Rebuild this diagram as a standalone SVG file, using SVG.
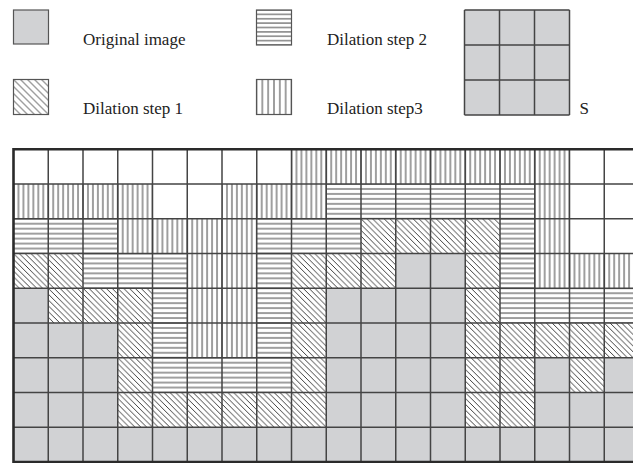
<svg xmlns="http://www.w3.org/2000/svg" width="633" height="463" viewBox="0 0 633 463">
<style>
.o{fill:#d1d2d4}
.h{fill:url(#ph)}
.v{fill:url(#pv)}
.d{fill:url(#pd)}
.hatch{stroke:#2a2a2a;stroke-width:0.9;fill:none}
.gl{stroke:#444;stroke-width:1.5;fill:none}
.bd{stroke:#2a2a2a;stroke-width:2.6;fill:none}
.lb{stroke:#555;stroke-width:1.2}
.t{font-family:"Liberation Serif","Times New Roman",serif;font-size:17px;fill:#222}
</style>
<defs>
<pattern id="ph" patternUnits="userSpaceOnUse" x="13.5" y="149.25" width="34.75" height="4.9643">
<rect width="34.75" height="4.9643" fill="#fff"/>
<line class="hatch" x1="0" y1="0" x2="34.75" y2="0"/>
<line class="hatch" x1="0" y1="4.9643" x2="34.75" y2="4.9643"/>
</pattern>
<pattern id="pv" patternUnits="userSpaceOnUse" x="13.5" y="149.25" width="4.9643" height="34.75">
<rect width="4.9643" height="34.75" fill="#fff"/>
<line class="hatch" x1="0" y1="0" x2="0" y2="34.75"/>
<line class="hatch" x1="4.9643" y1="0" x2="4.9643" y2="34.75"/>
</pattern>
<pattern id="pd" patternUnits="userSpaceOnUse" x="13.5" y="149.25" width="5.7917" height="5.7917">
<rect width="5.7917" height="5.7917" fill="#fff"/>
<path class="hatch" d="M-1,-1 L6.79,6.79 M4.79,-1 L6.79,1 M-1,4.79 L1,6.79"/>
</pattern>
<pattern id="lh" patternUnits="userSpaceOnUse" x="256.5" y="10" width="35" height="4.375">
<rect width="35" height="4.375" fill="#fff"/>
<line class="hatch" x1="0" y1="0" x2="35" y2="0"/>
<line class="hatch" x1="0" y1="4.375" x2="35" y2="4.375"/>
</pattern>
<pattern id="lv" patternUnits="userSpaceOnUse" x="256.5" y="79.5" width="5.8333" height="35">
<rect width="5.8333" height="35" fill="#fff"/>
<line class="hatch" x1="0" y1="0" x2="0" y2="35"/>
<line class="hatch" x1="5.8333" y1="0" x2="5.8333" y2="35"/>
</pattern>
<pattern id="ld" patternUnits="userSpaceOnUse" x="13.5" y="79.5" width="7" height="7">
<rect width="7" height="7" fill="#fff"/>
<path class="hatch" d="M-1,-1 L8,8 M6,-1 L8,1 M-1,6 L1,8"/>
</pattern>
</defs>
<rect width="633" height="463" fill="#fff"/>

<g id="legend-original">
<rect class="o lb" x="13.5" y="10" width="35" height="34"/>
<text class="t" x="83" y="45">Original image</text>
</g>
<g id="legend-step1">
<rect class="lb" fill="url(#ld)" x="13.5" y="79.5" width="35" height="35"/>
<text class="t" x="83" y="114">Dilation step 1</text>
</g>
<g id="legend-step2">
<rect class="lb" fill="url(#lh)" x="256.5" y="10" width="35" height="35"/>
<text class="t" x="327" y="45">Dilation step 2</text>
</g>
<g id="legend-step3">
<rect class="lb" fill="url(#lv)" x="256.5" y="79.5" width="35" height="35"/>
<text class="t" x="327" y="114">Dilation step3</text>
</g>
<g id="structuring-element">
<rect class="o" x="464.5" y="10" width="105" height="105"/>
<path class="gl" d="M464.5,10H569.5M464.5,45H569.5M464.5,80H569.5M464.5,115H569.5M464.5,10V115M499.5,10V115M534.5,10V115M569.5,10V115"/>
<text class="t" x="579.5" y="114">S</text>
</g>

<g id="grid-cells">
<rect class="v" x="291.5" y="149.25" width="278" height="34.75"/>

<rect class="v" x="13.5" y="184" width="139" height="34.75"/>
<rect class="v" x="222" y="184" width="104.25" height="34.75"/>
<rect class="h" x="326.25" y="184" width="208.5" height="34.75"/>
<rect class="v" x="534.75" y="184" width="34.75" height="34.75"/>

<rect class="h" x="13.5" y="218.75" width="104.25" height="34.75"/>
<rect class="v" x="117.75" y="218.75" width="139" height="34.75"/>
<rect class="h" x="256.75" y="218.75" width="104.25" height="34.75"/>
<rect class="d" x="361" y="218.75" width="139" height="34.75"/>
<rect class="h" x="500" y="218.75" width="34.75" height="34.75"/>
<rect class="v" x="534.75" y="218.75" width="34.75" height="34.75"/>

<rect class="d" x="13.5" y="253.5" width="69.5" height="34.75"/>
<rect class="h" x="83" y="253.5" width="104.25" height="34.75"/>
<rect class="v" x="187.25" y="253.5" width="69.5" height="34.75"/>
<rect class="h" x="256.75" y="253.5" width="34.75" height="34.75"/>
<rect class="d" x="291.5" y="253.5" width="104.25" height="34.75"/>
<rect class="o" x="395.75" y="253.5" width="69.5" height="34.75"/>
<rect class="d" x="465.25" y="253.5" width="34.75" height="34.75"/>
<rect class="h" x="500" y="253.5" width="34.75" height="34.75"/>
<rect class="v" x="534.75" y="253.5" width="104.25" height="34.75"/>

<rect class="o" x="13.5" y="288.25" width="34.75" height="34.75"/>
<rect class="d" x="48.25" y="288.25" width="104.25" height="34.75"/>
<rect class="h" x="152.5" y="288.25" width="34.75" height="34.75"/>
<rect class="v" x="187.25" y="288.25" width="69.5" height="34.75"/>
<rect class="h" x="256.75" y="288.25" width="34.75" height="34.75"/>
<rect class="d" x="291.5" y="288.25" width="34.75" height="34.75"/>
<rect class="o" x="326.25" y="288.25" width="139" height="34.75"/>
<rect class="d" x="465.25" y="288.25" width="34.75" height="34.75"/>
<rect class="h" x="500" y="288.25" width="139" height="34.75"/>

<rect class="o" x="13.5" y="323" width="104.25" height="34.75"/>
<rect class="d" x="117.75" y="323" width="34.75" height="34.75"/>
<rect class="h" x="152.5" y="323" width="34.75" height="34.75"/>
<rect class="v" x="187.25" y="323" width="69.5" height="34.75"/>
<rect class="h" x="256.75" y="323" width="34.75" height="34.75"/>
<rect class="d" x="291.5" y="323" width="34.75" height="34.75"/>
<rect class="o" x="326.25" y="323" width="139" height="34.75"/>
<rect class="d" x="465.25" y="323" width="173.75" height="34.75"/>

<rect class="o" x="13.5" y="357.75" width="104.25" height="34.75"/>
<rect class="d" x="117.75" y="357.75" width="34.75" height="34.75"/>
<rect class="h" x="152.5" y="357.75" width="139" height="34.75"/>
<rect class="d" x="291.5" y="357.75" width="34.75" height="34.75"/>
<rect class="o" x="326.25" y="357.75" width="139" height="34.75"/>
<rect class="d" x="465.25" y="357.75" width="69.5" height="34.75"/>
<rect class="o" x="534.75" y="357.75" width="34.75" height="34.75"/>
<rect class="d" x="569.5" y="357.75" width="34.75" height="34.75"/>
<rect class="o" x="604.25" y="357.75" width="34.75" height="34.75"/>

<rect class="o" x="13.5" y="392.5" width="104.25" height="34.75"/>
<rect class="d" x="117.75" y="392.5" width="208.5" height="34.75"/>
<rect class="o" x="326.25" y="392.5" width="139" height="34.75"/>
<rect class="d" x="465.25" y="392.5" width="69.5" height="34.75"/>
<rect class="o" x="534.75" y="392.5" width="104.25" height="34.75"/>

<rect class="o" x="13.5" y="427.25" width="625.5" height="34.75"/>
</g>

<g id="grid-lines">
<path class="gl" d="M13.5,184H633M13.5,218.75H633M13.5,253.5H633M13.5,288.25H633M13.5,323H633M13.5,357.75H633M13.5,392.5H633M13.5,427.25H633
M48.25,149.25V462M83,149.25V462M117.75,149.25V462M152.5,149.25V462M187.25,149.25V462M222,149.25V462M256.75,149.25V462M291.5,149.25V462M326.25,149.25V462M361,149.25V462M395.75,149.25V462M430.5,149.25V462M465.25,149.25V462M500,149.25V462M534.75,149.25V462M569.5,149.25V462M604.25,149.25V462"/>
<path class="bd" d="M633,149.25H13.5V462H633"/>
</g>
</svg>
